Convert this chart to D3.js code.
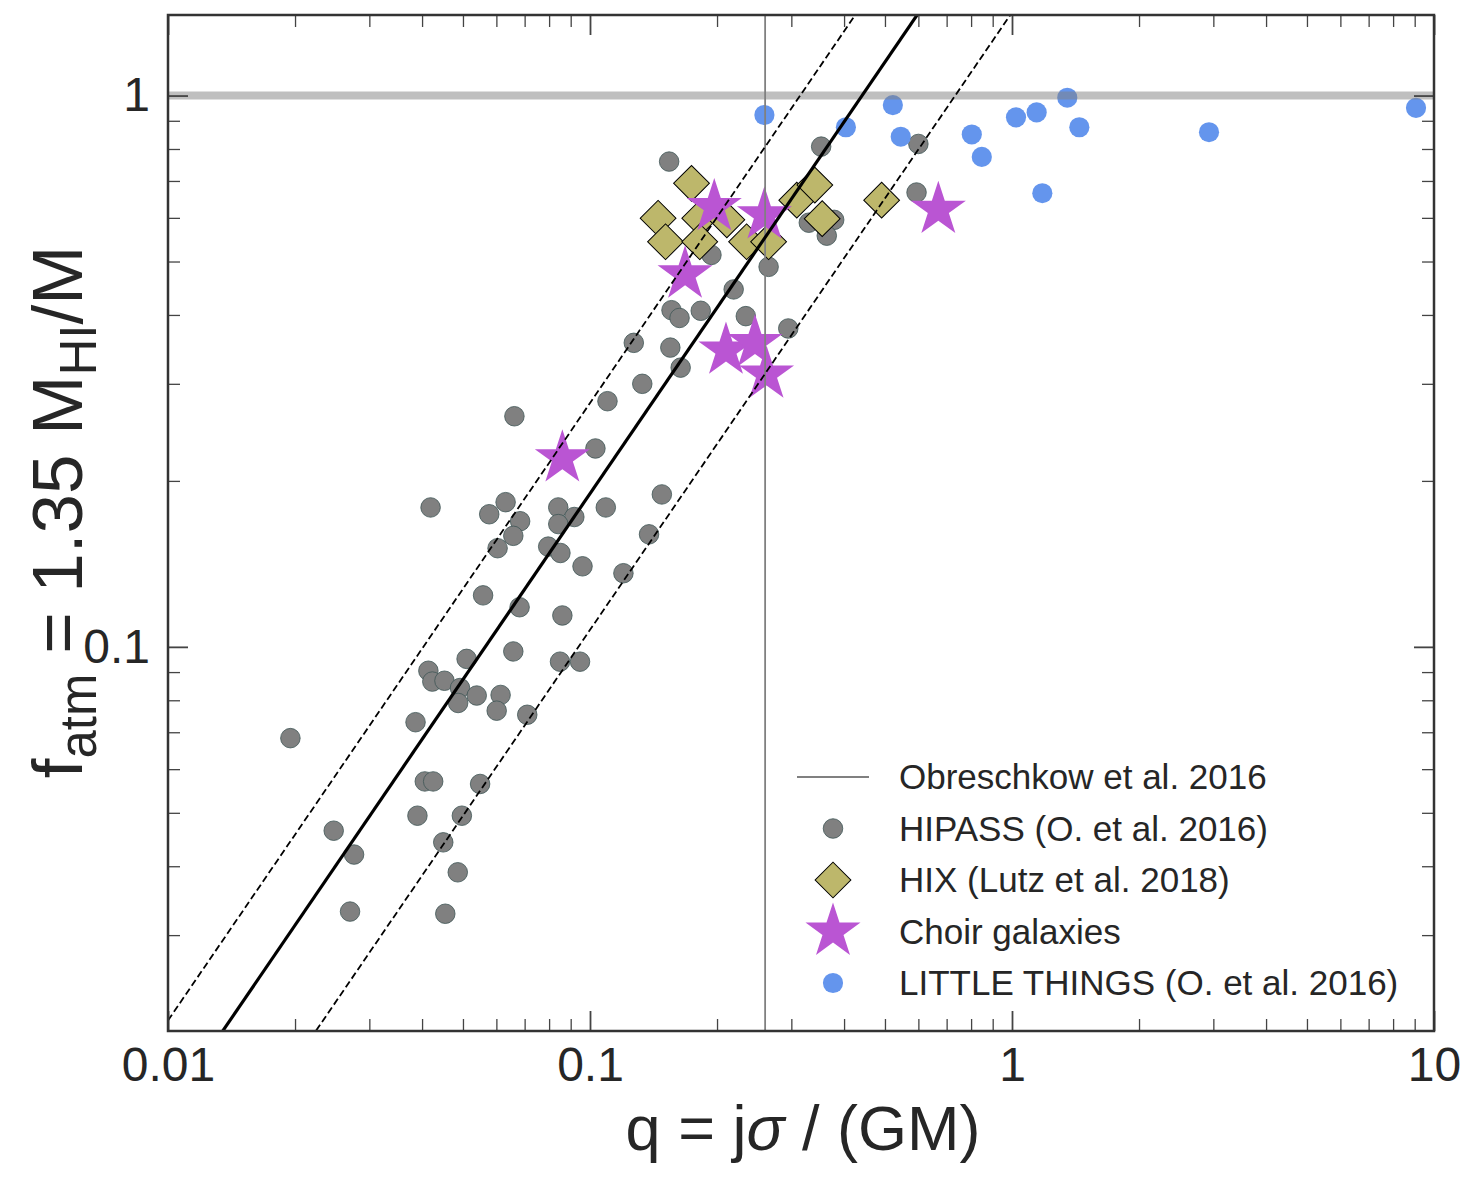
<!DOCTYPE html>
<html>
<head>
<meta charset="utf-8">
<script src="https://cdn.jsdelivr.net/npm/d3@7"></script>
<style>
  body { margin: 0; background: #fff; }
  svg text { font-family: "Liberation Sans", Arial, Helvetica, sans-serif; fill: #262626; }
</style>
</head>
<body>
<div id="chart"></div>
<script>
// HIPASS (O. et al. 2016): [q, f_atm]
var hipass = [
  [0.154, 0.759], [0.353, 0.808], [0.600, 0.817], [0.594, 0.667], [0.330, 0.588],
  [0.379, 0.595], [0.364, 0.557], [0.194, 0.514], [0.265, 0.489], [0.219, 0.445],
  [0.156, 0.408], [0.163, 0.395], [0.183, 0.407], [0.234, 0.398], [0.295, 0.378],
  [0.127, 0.356], [0.155, 0.349], [0.164, 0.321], [0.133, 0.300], [0.110, 0.279],
  [0.0662, 0.262], [0.103, 0.229], [0.148, 0.189], [0.0419, 0.179], [0.0631, 0.183],
  [0.0577, 0.174], [0.0683, 0.169], [0.0658, 0.159], [0.0604, 0.151], [0.0841, 0.179],
  [0.0918, 0.172], [0.0841, 0.167], [0.109, 0.179], [0.138, 0.160], [0.0796, 0.152],
  [0.0851, 0.148], [0.0960, 0.140], [0.120, 0.136], [0.0558, 0.124], [0.0681, 0.118],
  [0.0860, 0.114], [0.0658, 0.0981], [0.0849, 0.0940], [0.0947, 0.0940], [0.0510, 0.0951],
  [0.0414, 0.0905], [0.0423, 0.0865], [0.0452, 0.0868], [0.0492, 0.0842], [0.0487, 0.0791],
  [0.0539, 0.0816], [0.0614, 0.0818], [0.0601, 0.0766], [0.0710, 0.0753], [0.0386, 0.0730],
  [0.0195, 0.0683], [0.0406, 0.0570], [0.0425, 0.0570], [0.0549, 0.0564], [0.0390, 0.0494],
  [0.0497, 0.0494], [0.0449, 0.0442], [0.0247, 0.0464], [0.0276, 0.0420], [0.0486, 0.0390],
  [0.0270, 0.0331], [0.0454, 0.0328]
];

// HIX (Lutz et al. 2018)
var hix = [
  [0.174, 0.693], [0.145, 0.599], [0.151, 0.543], [0.182, 0.599], [0.182, 0.543],
  [0.211, 0.595], [0.235, 0.543], [0.265, 0.543], [0.309, 0.646], [0.341, 0.688],
  [0.355, 0.598], [0.491, 0.646]
];

// Choir galaxies
var choir = [
  [0.197, 0.628], [0.259, 0.607], [0.168, 0.474], [0.210, 0.345],
  [0.246, 0.356], [0.262, 0.312], [0.669, 0.621], [0.086, 0.220]
];

// LITTLE THINGS (O. et al. 2016)
var littleThings = [
  [0.259, 0.922], [0.404, 0.876], [0.522, 0.961], [0.545, 0.842], [0.803, 0.850],
  [0.848, 0.774], [1.022, 0.913], [1.144, 0.932], [1.352, 0.991], [1.444, 0.876],
  [1.180, 0.665], [2.930, 0.858], [9.065, 0.950]
];

// f_atm = 2.5 q^1.12 and the two dashed bounds
var relCoef = 2.5, relSlope = 1.12;
var boundFactors = [1.46, 0.566];
var qMark = 0.26;   // vertical line
var fMark = 1;      // horizontal line

var xMajor = [0.01, 0.1, 1, 10];
var xMajorLabels = ["0.01", "0.1", "1", "10"];
var xMinor = [0.02, 0.03, 0.04, 0.05, 0.06, 0.07, 0.08, 0.09,
              0.2, 0.3, 0.4, 0.5, 0.6, 0.7, 0.8, 0.9,
              2, 3, 4, 5, 6, 7, 8, 9];
var yMajor = [0.1, 1];
var yMajorLabels = ["0.1", "1"];
var yMinor = [0.03, 0.04, 0.05, 0.06, 0.07, 0.08, 0.09,
              0.2, 0.3, 0.4, 0.5, 0.6, 0.7, 0.8, 0.9];

var legendLabels = ["Obreschkow et al. 2016", "HIPASS (O. et al. 2016)",
                    "HIX (Lutz et al. 2018)", "Choir galaxies",
                    "LITTLE THINGS (O. et al. 2016)"];

var margin = { top: 15, right: 45, bottom: 148, left: 168 },
    width = 1479 - margin.left - margin.right,
    height = 1179 - margin.top - margin.bottom;

var svg = d3.select("#chart")
    .append("svg")
    .attr("width", width + margin.left + margin.right)
    .attr("height", height + margin.top + margin.bottom)
    .append("g")
    .attr("transform", "translate(" + margin.left + "," + margin.top + ")");

var x = d3.scaleLog().domain([0.01, 10]).range([0, width]);
var y = d3.scaleLog().domain([0.0201, 1.40]).range([height, 0]);

svg.append("clipPath").attr("id", "clip")
    .append("rect").attr("width", width).attr("height", height);

var plot = svg.append("g").attr("clip-path", "url(#clip)");

var circle = d3.symbol().type(d3.symbolCircle);
var square = d3.symbol().type(d3.symbolSquare);
var star = d3.symbol().type(d3.symbolStar);

// HIPASS
plot.selectAll(".hipass")
    .data(hipass)
    .enter()
    .append("path")
    .attr("d", circle.size(300)())
    .attr("transform", function(d) { return "translate(" + x(d[0]) + "," + y(d[1]) + ")"; })
    .style("fill", "#808080")
    .style("stroke", "#3f5555")
    .style("stroke-width", 0.8);

// HIX
plot.selectAll(".hix")
    .data(hix)
    .enter()
    .append("path")
    .attr("d", square.size(640)())
    .attr("transform", function(d) { return "translate(" + x(d[0]) + "," + y(d[1]) + ") rotate(45)"; })
    .style("fill", "#bdb76b")
    .style("stroke", "#000")
    .style("stroke-width", 1);

// Choir
plot.selectAll(".choir")
    .data(choir)
    .enter()
    .append("path")
    .attr("d", star.size(940)())
    .attr("transform", function(d) { return "translate(" + x(d[0]) + "," + y(d[1]) + ")"; })
    .style("fill", "#ba55d3");

// LITTLE THINGS
plot.selectAll(".lt")
    .data(littleThings)
    .enter()
    .append("path")
    .attr("d", circle.size(320)())
    .attr("transform", function(d) { return "translate(" + x(d[0]) + "," + y(d[1]) + ")"; })
    .style("fill", "#6495ed");

// reference lines
plot.append("line")
    .attr("x1", 0).attr("x2", width)
    .attr("y1", y(fMark)).attr("y2", y(fMark))
    .style("stroke", "#808080")
    .style("stroke-opacity", 0.5)
    .style("stroke-width", 8);

plot.append("line")
    .attr("x1", x(qMark)).attr("x2", x(qMark))
    .attr("y1", 0).attr("y2", height)
    .style("stroke", "#808080")
    .style("stroke-width", 1.8);

var relation = function(k) {
    return d3.line()
        .x(function(q) { return x(q); })
        .y(function(q) { return y(k * relCoef * Math.pow(q, relSlope)); });
};

plot.append("path")
    .datum(x.domain())
    .attr("d", relation(1))
    .style("fill", "none")
    .style("stroke", "#000")
    .style("stroke-width", 3.2);

boundFactors.forEach(function(k) {
    plot.append("path")
        .datum(x.domain())
        .attr("d", relation(k))
        .style("fill", "none")
        .style("stroke", "#000")
        .style("stroke-width", 1.8)
        .style("stroke-dasharray", "7,3.5");
});

// axes, ticks pointing inward on all four sides
function ticks(g, axis, major) {
    g.call(axis);
    g.select(".domain").remove();
    g.selectAll(".tick line")
        .style("stroke", "#444")
        .style("stroke-width", major ? 1.8 : 1.3);
    g.selectAll("text")
        .style("font-size", "48px")
        .style("fill", "#262626")
        .style("font-family", "'Liberation Sans', Arial, sans-serif");
}

ticks(svg.append("g").attr("transform", "translate(0," + height + ")"),
    d3.axisBottom(x).tickValues(xMajor).tickSize(-20).tickPadding(16)
        .tickFormat(function(d, i) { return xMajorLabels[i]; }), true);
ticks(svg.append("g").attr("transform", "translate(0," + height + ")"),
    d3.axisBottom(x).tickValues(xMinor).tickSize(-12).tickFormat(""), false);
ticks(svg.append("g"),
    d3.axisTop(x).tickValues(xMajor).tickSize(-20).tickFormat(""), true);
ticks(svg.append("g"),
    d3.axisTop(x).tickValues(xMinor).tickSize(-12).tickFormat(""), false);

ticks(svg.append("g"),
    d3.axisLeft(y).tickValues(yMajor).tickSize(-20).tickPadding(18)
        .tickFormat(function(d, i) { return yMajorLabels[i]; }), true);
ticks(svg.append("g"),
    d3.axisLeft(y).tickValues(yMinor).tickSize(-12).tickFormat(""), false);
ticks(svg.append("g").attr("transform", "translate(" + width + ",0)"),
    d3.axisRight(y).tickValues(yMajor).tickSize(-20).tickFormat(""), true);
ticks(svg.append("g").attr("transform", "translate(" + width + ",0)"),
    d3.axisRight(y).tickValues(yMinor).tickSize(-12).tickFormat(""), false);

svg.append("rect")
    .attr("width", width)
    .attr("height", height)
    .style("fill", "none")
    .style("stroke", "#333")
    .style("stroke-width", 2.5);

// axis labels
var xl = svg.append("text")
    .attr("x", 803 - margin.left)
    .attr("y", 1150 - margin.top)
    .attr("text-anchor", "middle")
    .style("font-size", "63px");
xl.append("tspan").text("q = j");
xl.append("tspan").style("font-style", "italic").text("σ");
xl.append("tspan").text(" / (GM)");

var yl = svg.append("text")
    .attr("transform", "translate(" + (82 - margin.left) + "," + (512 - margin.top) + ") rotate(-90)")
    .attr("text-anchor", "middle")
    .style("font-size", "71px");
yl.append("tspan").text("f");
yl.append("tspan").attr("dy", 14).style("font-size", "51px").text("atm");
yl.append("tspan").attr("dy", -14).text(" = 1.35 M");
yl.append("tspan").attr("dy", 14).style("font-size", "51px").text("HI");
yl.append("tspan").attr("dy", -14).text("/M");

// legend
var legend = svg.append("g")
    .attr("transform", "translate(" + (833 - margin.left) + "," + (777 - margin.top) + ")");
var rowStep = 51.5;

legend.append("line")
    .attr("x1", -36).attr("x2", 36)
    .attr("y1", 0).attr("y2", 0)
    .style("stroke", "#808080")
    .style("stroke-width", 1.8);
legend.append("path")
    .attr("d", circle.size(300)())
    .attr("transform", "translate(0," + rowStep + ")")
    .style("fill", "#808080").style("stroke", "#3f5555").style("stroke-width", 0.8);
legend.append("path")
    .attr("d", square.size(640)())
    .attr("transform", "translate(0," + 2 * rowStep + ") rotate(45)")
    .style("fill", "#bdb76b").style("stroke", "#000").style("stroke-width", 1);
legend.append("path")
    .attr("d", star.size(940)())
    .attr("transform", "translate(0," + 3 * rowStep + ")")
    .style("fill", "#ba55d3");
legend.append("path")
    .attr("d", circle.size(320)())
    .attr("transform", "translate(0," + 4 * rowStep + ")")
    .style("fill", "#6495ed");

legend.selectAll(".lbl")
    .data(legendLabels)
    .enter()
    .append("text")
    .attr("x", 66)
    .attr("y", function(d, i) { return i * rowStep; })
    .attr("dy", "0.35em")
    .style("font-size", "35px")
    .text(function(d) { return d; });
</script>
</body>
</html>
